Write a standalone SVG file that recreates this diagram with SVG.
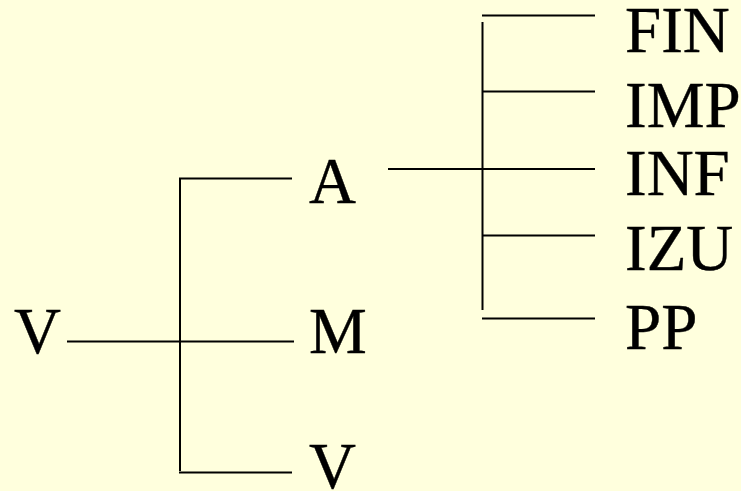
<svg xmlns="http://www.w3.org/2000/svg" width="741" height="491" viewBox="0 0 741 491">
<style>
.lbl{font-family:"Liberation Serif","Times New Roman",serif;font-size:65px;fill:#000;stroke:#000;stroke-width:0.4}
.ln{stroke:#000;stroke-width:2;fill:none}
</style>
<rect width="741" height="491" fill="#FFFFDD"/>
<g id="connectors">
<line class="ln" x1="67" y1="341.5" x2="294" y2="341.5"/>
<line class="ln" x1="180" y1="179" x2="180" y2="471"/>
<line class="ln" x1="179" y1="178.5" x2="292" y2="178.5"/>
<line class="ln" x1="179" y1="472.5" x2="292" y2="472.5"/>
<line class="ln" x1="388" y1="169" x2="595" y2="169"/>
<line class="ln" x1="482.5" y1="22" x2="482.5" y2="310"/>
<line class="ln" x1="482" y1="15.5" x2="595" y2="15.5"/>
<line class="ln" x1="482" y1="91.5" x2="595" y2="91.5"/>
<line class="ln" x1="482" y1="235.5" x2="595" y2="235.5"/>
<line class="ln" x1="482" y1="318.5" x2="595" y2="318.5"/>
</g>
<g id="node-V-root"><text class="lbl" x="14" y="353">V</text></g>
<g id="node-A"><text class="lbl" x="309" y="203">A</text></g>
<g id="node-M"><text class="lbl" x="309" y="353">M</text></g>
<g id="node-V"><text class="lbl" x="309" y="488">V</text></g>
<g id="node-FIN"><text class="lbl" x="625" y="52">FIN</text></g>
<g id="node-IMP"><text class="lbl" x="625" y="127">IMP</text></g>
<g id="node-INF"><text class="lbl" x="625" y="195">INF</text></g>
<g id="node-IZU"><text class="lbl" x="625" y="270">IZU</text></g>
<g id="node-PP"><text class="lbl" x="625" y="349">PP</text></g>
</svg>
